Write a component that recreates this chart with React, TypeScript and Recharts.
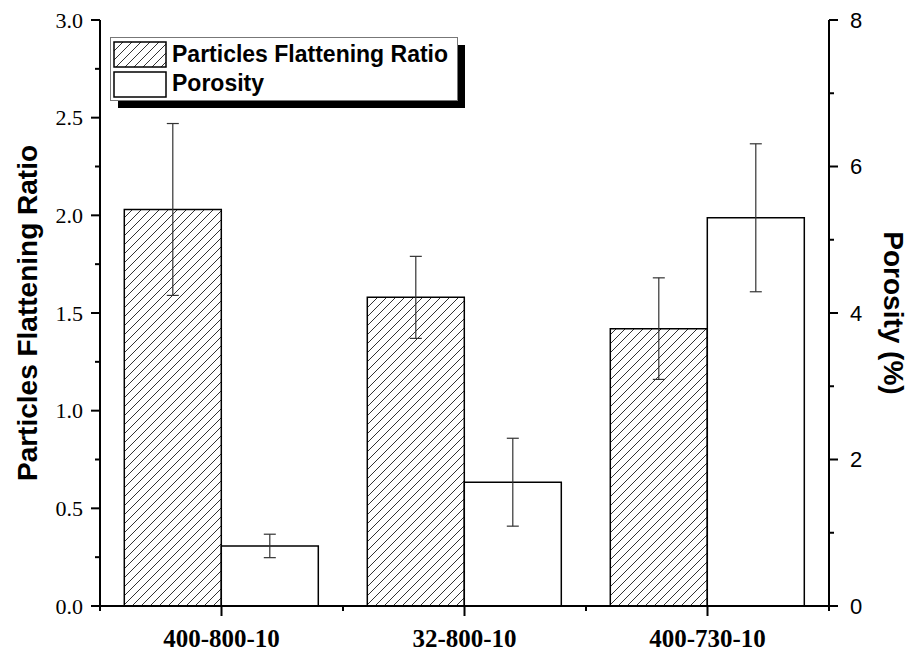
import React from 'react';
import {
  ComposedChart,
  Bar,
  ErrorBar,
  XAxis,
  YAxis,
  Legend
} from 'recharts';

const categories = ['400-800-10', '32-800-10', '400-730-10'];
const flatteningRatio = [2.03, 1.58, 1.42];
const flatteningError = [0.44, 0.21, 0.26];
const porosity = [0.82, 1.69, 5.3];
const porosityError = [0.16, 0.6, 1.01];
const leftTicks = [0, 0.25, 0.5, 0.75, 1, 1.25, 1.5, 1.75, 2, 2.25, 2.5, 2.75, 3];
const rightTicks = [0, 1, 2, 3, 4, 5, 6, 7, 8];
const seriesNames = ['Particles Flattening Ratio', 'Porosity'];

const W = 916;
const H = 657;
const LEFT_W = 100;
const RIGHT_W = 87;
const TOP = 20;
const BOTTOM_H = 51;
const BAND = (W - LEFT_W - RIGHT_W) / categories.length;

const SERIF = '"Liberation Serif", "Times New Roman", serif';
const SANS = '"Liberation Sans", Arial, sans-serif';

const data = categories.map((name, i) => ({
  name,
  ratio: flatteningRatio[i],
  ratioErr: flatteningError[i],
  porosity: porosity[i],
  porosityErr: porosityError[i]
}));

const LeftTick = ({ x, y, payload }: any) => {
  const major = Math.abs(payload.value * 2 - Math.round(payload.value * 2)) < 1e-6;
  return (
    <g>
      <line x1={x} x2={x - (major ? 9 : 5)} y1={y} y2={y} stroke="#000" strokeWidth={2} />
      {major && (
        <text x={x - 17} y={y} dy="0.35em" textAnchor="end" fontFamily={SERIF} fontSize={22} fill="#000">
          {payload.value.toFixed(1)}
        </text>
      )}
    </g>
  );
};

const RightTick = ({ x, y, payload }: any) => {
  const major = payload.value % 2 === 0;
  return (
    <g>
      <line x1={x} x2={x + (major ? 9 : 5)} y1={y} y2={y} stroke="#000" strokeWidth={2} />
      {major && (
        <text x={x + 21} y={y} dy="0.35em" textAnchor="start" fontFamily={SANS} fontSize={22} fill="#000">
          {payload.value}
        </text>
      )}
    </g>
  );
};

const BottomTick = ({ x, y, payload, index }: any) => (
  <g>
    <line x1={x} x2={x} y1={y} y2={y + 10} stroke="#000" strokeWidth={2} />
    <line x1={x + BAND / 2} x2={x + BAND / 2} y1={y} y2={y + 5} stroke="#000" strokeWidth={2} />
    {index === 0 && <line x1={x - BAND / 2} x2={x - BAND / 2} y1={y} y2={y + 5} stroke="#000" strokeWidth={2} />}
    <text x={x} y={y + 41} textAnchor="middle" fontFamily={SERIF} fontWeight="bold" fontSize={25} fill="#000">
      {payload.value}
    </text>
  </g>
);

const TopTick = ({ x, y }: any) => (
  <g>
    <line x1={x} x2={x} y1={y} y2={y + 10} stroke="#000" strokeWidth={2} />
    <line x1={x + BAND / 2} x2={x + BAND / 2} y1={y} y2={y + 5} stroke="#000" strokeWidth={2} />
  </g>
);

const AxisTitle = ({ viewBox, value, side }: any) => {
  const vb = viewBox || { x: 0, y: 0, width: 0, height: 0 };
  const cx = side === 'left' ? vb.x + 27 : vb.x + 64;
  const cy = vb.y + vb.height / 2;
  return (
    <text
      x={cx}
      y={cy}
      transform={`rotate(${side === 'left' ? -90 : 90}, ${cx}, ${cy})`}
      textAnchor="middle"
      dominantBaseline="central"
      fontFamily={SANS}
      fontWeight="bold"
      fontSize={28}
      fill="#000"
    >
      {value}
    </text>
  );
};

const LegendBox = ({ payload }: any) => {
  const items = payload && payload.length ? payload : seriesNames.map((n) => ({ value: n }));
  return (
    <svg width={360} height={75} style={{ display: 'block' }}>
      <rect x={8} y={8} width={347} height={63} fill="#000" />
      <rect x={0.5} y={0.5} width={347} height={63} fill="#fff" stroke="#777" strokeWidth={1} />
      {items.map((item: any, i: number) => (
        <g key={i}>
          <rect
            x={4}
            y={5 + i * 30}
            width={52}
            height={25}
            fill={i === 0 ? 'url(#hatch)' : '#fff'}
            stroke="#000"
            strokeWidth={1.5}
          />
          <text x={62} y={25 + i * 29} fontFamily={SANS} fontWeight="bold" fontSize={23} fill="#000">
            {item.value}
          </text>
        </g>
      ))}
    </svg>
  );
};

export default function App() {
  return (
    <div style={{ position: 'absolute', left: 0, top: 0, width: W, height: H, background: '#fff' }}>
      <svg width={0} height={0} style={{ position: 'absolute' }}>
        <defs>
          <pattern id="hatch" patternUnits="userSpaceOnUse" width={9} height={9}>
            <path d="M0,9 L9,0 M-2,2 L2,-2 M7,11 L11,7" stroke="#333" strokeWidth={1} />
          </pattern>
        </defs>
      </svg>
      <ComposedChart
        width={W}
        height={H}
        data={data}
        margin={{ top: TOP, right: 0, bottom: 0, left: 0 }}
        barCategoryGap="10%"
        barGap={0}
      >
        <XAxis
          xAxisId="bottom"
          dataKey="name"
          height={BOTTOM_H}
          tickSize={0}
          tickMargin={0}
          interval={0}
          axisLine={{ stroke: '#000', strokeWidth: 2 }}
          tick={<BottomTick />}
        />
        <XAxis
          xAxisId="top"
          orientation="top"
          dataKey="name"
          height={0}
          tickSize={0}
          tickMargin={0}
          interval={0}
          axisLine={{ stroke: '#000', strokeWidth: 2 }}
          tick={<TopTick />}
        />
        <YAxis
          yAxisId="left"
          width={LEFT_W}
          domain={[0, 3]}
          ticks={leftTicks}
          interval={0}
          tickSize={0}
          tickMargin={0}
          axisLine={{ stroke: '#000', strokeWidth: 2 }}
          tick={<LeftTick />}
          label={<AxisTitle value="Particles Flattening Ratio" side="left" />}
        />
        <YAxis
          yAxisId="right"
          orientation="right"
          width={RIGHT_W}
          domain={[0, 8]}
          ticks={rightTicks}
          interval={0}
          tickSize={0}
          tickMargin={0}
          axisLine={{ stroke: '#000', strokeWidth: 2 }}
          tick={<RightTick />}
          label={<AxisTitle value="Porosity (%)" side="right" />}
        />
        <Legend
          layout="vertical"
          align="center"
          verticalAlign="middle"
          content={<LegendBox />}
          wrapperStyle={{ left: 110, top: 37, width: 360, height: 75 }}
        />
        <Bar
          xAxisId="bottom"
          yAxisId="left"
          dataKey="ratio"
          name={seriesNames[0]}
          fill="url(#hatch)"
          stroke="#000"
          strokeWidth={1.5}
          isAnimationActive={false}
        >
          <ErrorBar dataKey="ratioErr" direction="y" width={6} stroke="#333" strokeWidth={1.2} />
        </Bar>
        <Bar
          xAxisId="bottom"
          yAxisId="right"
          dataKey="porosity"
          name={seriesNames[1]}
          fill="#fff"
          stroke="#000"
          strokeWidth={1.5}
          isAnimationActive={false}
        >
          <ErrorBar dataKey="porosityErr" direction="y" width={6} stroke="#333" strokeWidth={1.2} />
        </Bar>
      </ComposedChart>
    </div>
  );
}
